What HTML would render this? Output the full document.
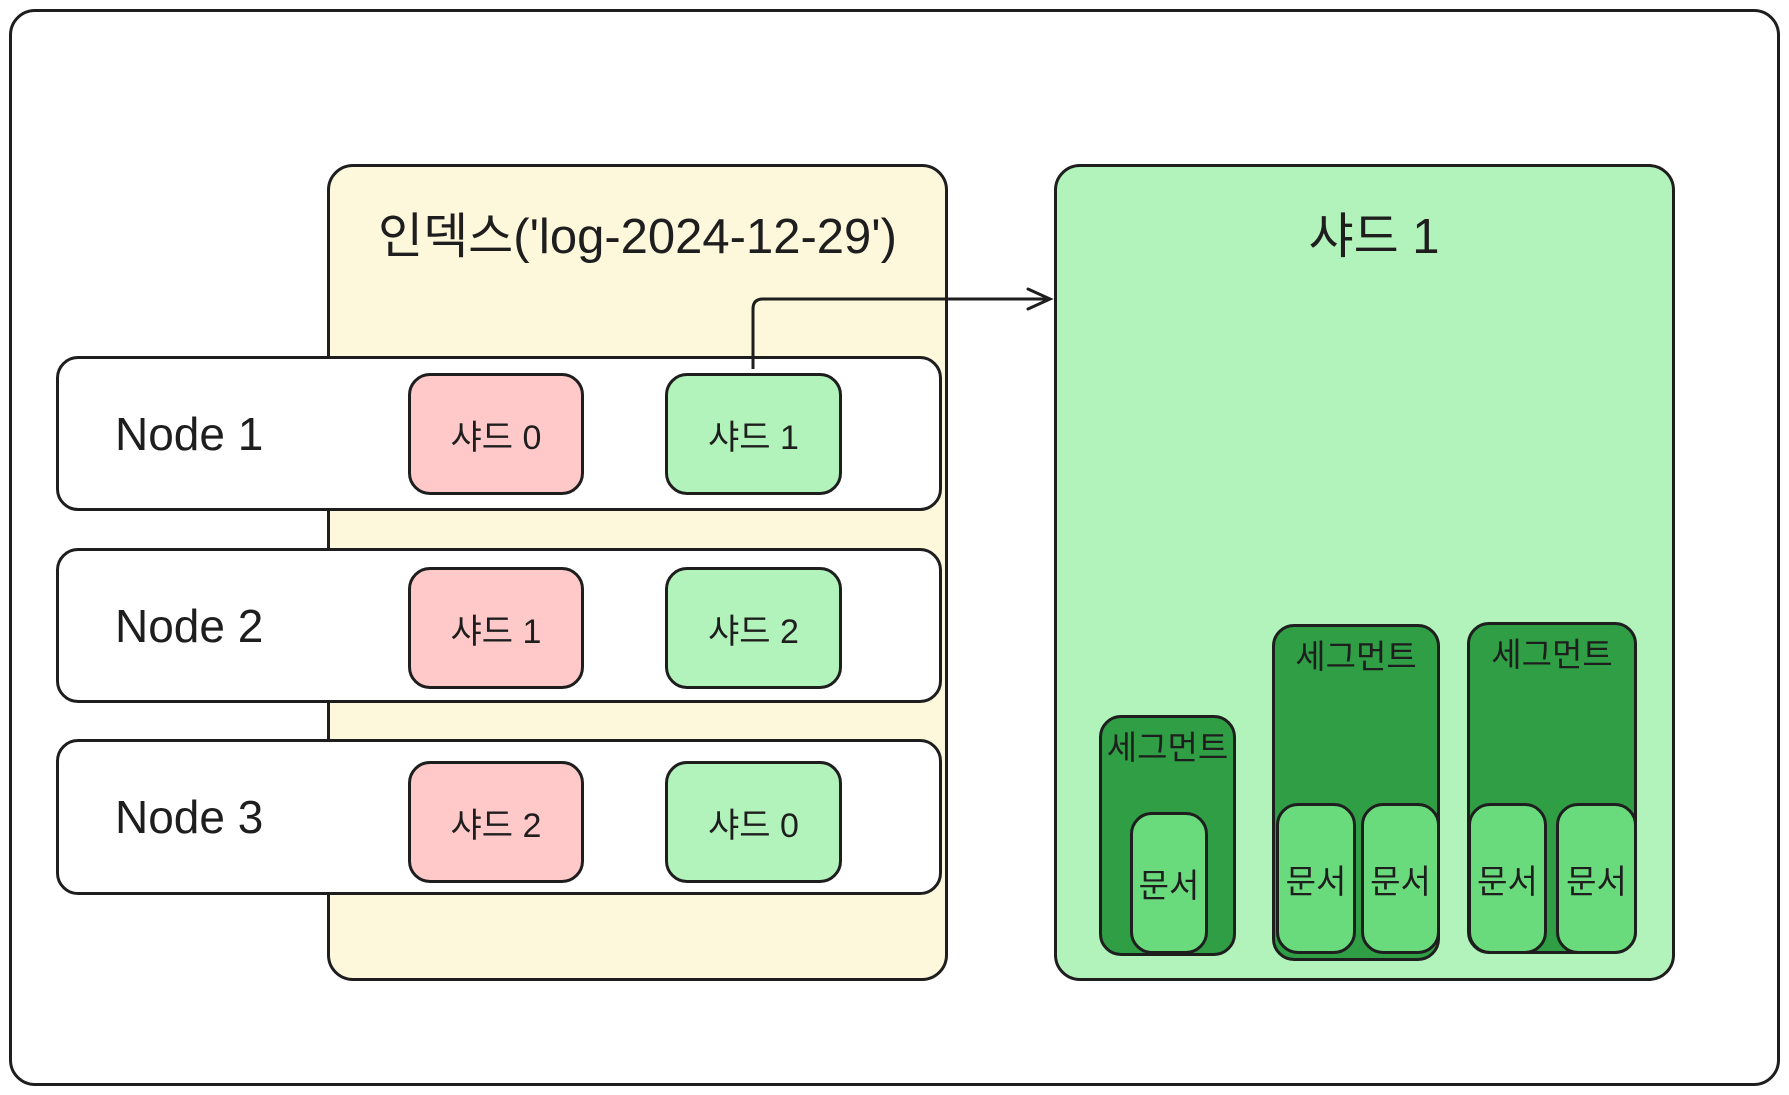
<!DOCTYPE html>
<html><head><meta charset="utf-8"><style>
body{margin:0;width:1789px;height:1095px;background:#fff;position:relative;overflow:hidden;font-family:"Liberation Sans","Noto Sans CJK KR",sans-serif;color:#1e1e1e}
.b{position:absolute;box-sizing:border-box;border:3px solid #1e1e1e;border-radius:22px;display:flex;align-items:center;justify-content:center}
.t{position:absolute;text-align:center;white-space:nowrap;line-height:56px}
.s{align-items:flex-start;padding-top:3px;font-size:33px;background:#2f9e44}
.d{background:#69db7c;font-size:33px}
</style></head><body>
<div class="b" style="left:9px;top:9px;width:1771px;height:1077px;border-radius:26px"></div>
<div class="b" style="left:327px;top:164px;width:621px;height:817px;background:#fdf7dc;border-radius:26px"></div>
<div class="t" style="left:327px;width:621px;top:209px;font-size:49px">인덱스('log-2024-12-29')</div>
<div class="b" style="left:1054px;top:164px;width:621px;height:817px;background:#b2f2bb;border-radius:26px"></div>
<div class="t" style="left:1054px;width:640px;top:209px;font-size:49px">샤드 1</div>

<div class="b" style="left:56px;top:356px;width:886px;height:155px;background:#fff;justify-content:flex-start;padding-left:56px;font-size:46px">Node 1</div>
<div class="b" style="left:56px;top:548px;width:886px;height:155px;background:#fff;justify-content:flex-start;padding-left:56px;font-size:46px">Node 2</div>
<div class="b" style="left:56px;top:739px;width:886px;height:156px;background:#fff;justify-content:flex-start;padding-left:56px;font-size:46px">Node 3</div>

<div class="b" style="left:408px;top:373px;width:176px;height:122px;background:#ffc9c9;font-size:34px">샤드 0</div>
<div class="b" style="left:665px;top:373px;width:177px;height:122px;background:#b2f2bb;font-size:34px">샤드 1</div>
<div class="b" style="left:408px;top:567px;width:176px;height:122px;background:#ffc9c9;font-size:34px">샤드 1</div>
<div class="b" style="left:665px;top:567px;width:177px;height:122px;background:#b2f2bb;font-size:34px">샤드 2</div>
<div class="b" style="left:408px;top:761px;width:176px;height:122px;background:#ffc9c9;font-size:34px">샤드 2</div>
<div class="b" style="left:665px;top:761px;width:177px;height:122px;background:#b2f2bb;font-size:34px">샤드 0</div>

<svg style="position:absolute;left:0;top:0" width="1789" height="1095">
<path d="M753 369 V309 Q753 299 763 299 H1050" fill="none" stroke="#1e1e1e" stroke-width="3"/>
<path d="M1028 289 L1050 299 L1028 309" fill="none" stroke="#1e1e1e" stroke-width="3" stroke-linecap="round"/>
</svg>

<div class="b s" style="left:1099px;top:715px;width:137px;height:241px">세그먼트</div>
<div class="b d" style="left:1130px;top:812px;width:78px;height:142px">문서</div>
<div class="b s" style="left:1272px;top:624px;width:168px;height:337px">세그먼트</div>
<div class="b d" style="left:1276px;top:803px;width:80px;height:151px">문서</div>
<div class="b d" style="left:1361px;top:803px;width:79px;height:151px">문서</div>
<div class="b s" style="left:1467px;top:622px;width:170px;height:332px">세그먼트</div>
<div class="b d" style="left:1468px;top:803px;width:79px;height:151px">문서</div>
<div class="b d" style="left:1556px;top:803px;width:81px;height:151px">문서</div>
</body></html>
